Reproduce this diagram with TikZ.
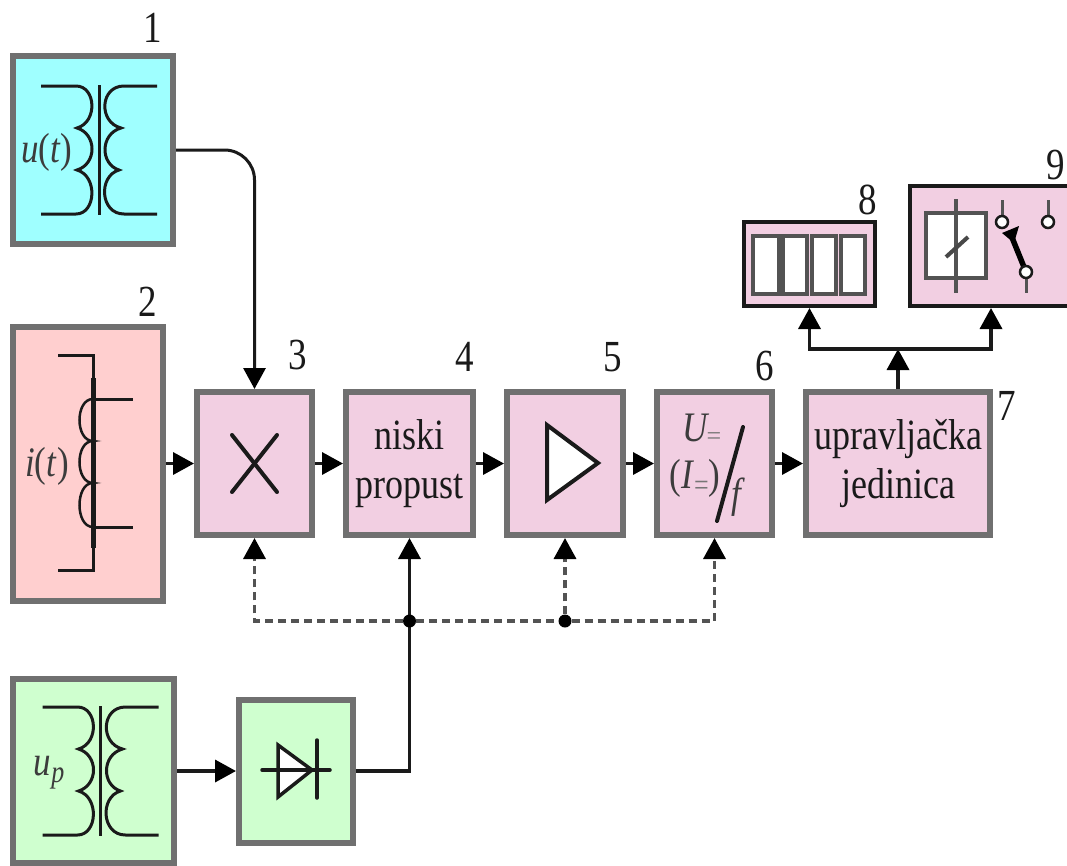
\documentclass[tikz,border=0pt]{standalone}
\usepackage{fontspec}
\usepackage{graphicx}
\setmainfont{Liberation Serif}
\usetikzlibrary{arrows.meta}
\definecolor{bcyan}{HTML}{9FFFFF}
\definecolor{bred}{HTML}{FFCFCF}
\definecolor{bpink}{HTML}{F2CFE2}
\definecolor{bgreen}{HTML}{CFFFCF}
\definecolor{bgray}{HTML}{707070}
\definecolor{ink}{HTML}{1A1A1A}
\newcommand{\vs}[1]{\scalebox{1}[1.2]{#1}}
\tikzset{
  x=1pt,y=-1pt,
  blockbox/.style={draw=bgray,line width=6pt,inner sep=0pt,align=center,text=ink,font=\fontsize{36}{49}\selectfont},
  darkbox/.style={draw=ink,line width=4pt,fill=bpink,inner sep=0pt},
  num/.style={inner sep=0pt,text=ink,font=\fontsize{37}{40}\selectfont},
  lab/.style={inner sep=0pt,text=ink!85,font=\fontsize{35}{40}\selectfont},
  wire/.style={draw=ink,line width=3pt,line cap=round},
  thin wire/.style={draw=ink,line width=2.5pt},
  conn/.style={draw=ink,line width=3.5pt,-{Triangle[length=21pt,width=22pt,color=black]}},
  ctrl/.style={draw=ink!75,line width=3.5pt,dash pattern=on 8pt off 5pt,-{Triangle[length=21pt,width=22pt,color=black]}},
  ctrlplain/.style={draw=ink!75,line width=3.5pt,dash pattern=on 8pt off 5pt},
  dotnode/.style={circle,fill=black,inner sep=0pt,minimum size=13pt},
  term/.style={circle,draw=ink,fill=white,line width=2.5pt,inner sep=0pt,minimum size=12pt},
}
\newcommand{\xfmr}[2]{%
  \begin{scope}[shift={(#1,#2)}]
    \draw[thin wire,line width=3pt] (41,86) -- (76,86) .. controls (96,86) and (98,122) .. (77,128)
      .. controls (97,134) and (97,164) .. (77,170)
      .. controls (98,176) and (96,214) .. (76,214) -- (41,214);
    \draw[thin wire,line width=3pt] (157,86) -- (124,86) .. controls (100,86) and (98,122) .. (121,128)
      .. controls (100,134) and (100,164) .. (119,170)
      .. controls (98,176) and (100,214) .. (124,214) -- (157,214);
    \draw[thin wire,line width=3pt] (99,85) -- (99,215);
  \end{scope}}
\begin{document}
\begin{tikzpicture}
\clip (0,0) rectangle (1067,865);
\useasboundingbox (0,0) rectangle (1067,865);
\fill[white] (0,0) rectangle (1067,865);

% blocks
\node[blockbox,fill=bcyan,minimum width=160pt,minimum height=188pt] (b1) at (93,150) {};
\node[blockbox,fill=bred,minimum width=150pt,minimum height=274pt] (b2) at (88,463.5) {};
\node[blockbox,fill=bpink,minimum width=115pt,minimum height=143pt] (b3) at (254.5,463.5) {};
\node[blockbox,fill=bpink,minimum width=127pt,minimum height=143pt] (b4) at (409.5,463.5) {\vs{niski}\\\vs{propust}};
\node[blockbox,fill=bpink,minimum width=116pt,minimum height=143pt] (b5) at (565,463.5) {};
\node[blockbox,fill=bpink,minimum width=115pt,minimum height=143pt] (b6) at (714.5,463.5) {};
\node[blockbox,fill=bpink,minimum width=184pt,minimum height=143pt] (b7) at (898,463.5) {\vs{upravljačka}\\\vs{jedinica}};
\node[darkbox,minimum width=131pt,minimum height=84pt] (b8) at (809.5,264) {};
\node[darkbox,minimum width=162pt,minimum height=120pt] (b9) at (991,246) {};
\node[blockbox,fill=bgreen,minimum width=161pt,minimum height=184pt] (b10) at (93.5,771) {};
\node[blockbox,fill=bgreen,minimum width=114pt,minimum height=143pt] (b11) at (296,771) {};

% numbers
\node[num] (n1) at (153,28) {\vs{1}};
\node[num] (n2) at (148,302) {\vs{2}};
\node[num] (n3) at (298,355) {\vs{3}};
\node[num] (n4) at (465,357) {\vs{4}};
\node[num] (n5) at (613,357) {\vs{5}};
\node[num] (n6) at (765,366) {\vs{6}};
\node[num] (n7) at (1007,406) {\vs{7}};
\node[num] (n8) at (868,200) {\vs{8}};
\node[num] (n9) at (1056,165) {\vs{9}};

% transformers
\xfmr{0}{0}
\xfmr{1.5}{621}
\node[lab] (lu) at (47,152) {\vs{\textit{u}(\textit{t})}};
\node[lab] (li) at (47,466) {\vs{\textit{i}(\textit{t})}};
\node[lab] (lp) at (49,773) {\vs{\textit{u}\raisebox{-6pt}{\fontsize{26}{28}\selectfont\textit{p}}}};

% current transformer
\draw[thin wire,line width=3pt] (58,355) -- (93,355) -- (93,570) -- (58,570);
\draw[thin wire,line width=5pt] (93,378) -- (93,548);
\draw[thin wire,line width=3pt] (93,399) -- (133,399);
\draw[thin wire,line width=3pt] (93,527) -- (133,527);
\draw[thin wire,line width=2.5pt] (93,399) .. controls (75,399) and (75,441) .. (93,441)
  .. controls (75,441) and (75,483) .. (93,483)
  .. controls (75,483) and (75,527) .. (93,527);

% multiplier
\draw[wire,line width=4pt] (232,435) -- (277,492);
\draw[wire,line width=4pt] (277,435) -- (232,492);

% amplifier
\draw[draw=ink,fill=white,line width=4pt] (547,425) -- (598,463) -- (547,500) -- cycle;

% converter text
\node[lab] (lU) at (696,428) {\vs{\textit{U}}};
\node[inner sep=0pt,text=ink!60,font=\fontsize{26}{26}\selectfont] (lUe) at (714,439) {=};
\node[lab] (lI) at (695,478) {\vs{(\textit{I}\raisebox{-6pt}{\textcolor{ink!60}{\fontsize{26}{26}\selectfont =}})}};
\node[lab] (lf) at (738,497) {\vs{\textit{f}}};
\draw[wire,line width=4pt] (743,427) -- (717,521);

% display
\foreach \xa/\xb in {753/779,783/807,812/836,841/865}
  \draw[draw=ink!75,fill=white,line width=3.5pt] (\xa,236) rectangle (\xb,294);

% relay
\draw[draw=ink!75,fill=white,line width=3.5pt] (926,213) rectangle (986,278);
\draw[draw=ink!75,line width=3.5pt] (956,199) -- (956,293);
\draw[draw=ink!80,line width=4pt] (946,257) -- (968,237);
\draw[draw=ink!75,line width=3pt] (1002,200) -- (1002,222);
\draw[draw=ink!75,line width=3pt] (1048,200) -- (1048,222);
\draw[draw=ink!75,line width=3pt] (1026,272) -- (1026,293);
\draw[draw=black,line width=5.5pt] (1026,272) -- (1011,235);
\fill[black] (1019,226) -- (1002,233) -- (1014,243) -- cycle;
\node[term] (t1) at (1002,222) {};
\node[term] (t2) at (1048,222) {};
\node[term] (t3) at (1026,272) {};

% diode
\draw[wire,line width=3.5pt,fill=white] (278,745) -- (312,770) -- (278,797) -- cycle;
\draw[wire,line width=3.5pt] (262,770) -- (330,770);
\draw[wire,line width=3.5pt] (317,740) -- (317,798);

% connectors
\draw[conn,rounded corners=30pt,line width=3pt] (b1.east) -| (b3.north);
\draw[conn] (b2.east |- b3.west) -- (b3.west);
\draw[conn] (b3.east) -- (b4.west);
\draw[conn] (b4.east) -- (b5.west);
\draw[conn] (b5.east) -- (b6.west);
\draw[conn] (b6.east) -- (b7.west);
\coordinate (j) at (898,349);
\draw[conn] (b7.north) -- (j);
\draw[conn] (j) -| (b8.south);
\draw[conn] (j) -| (b9.south);
\draw[conn] (b10.east) -- (b11.west);
\draw[conn] (b11.east) -| (b4.south);

\coordinate (cl) at (0,621);
\node[dotnode] (d1) at (b4.south |- cl) {};
\node[dotnode] (d2) at (b5.south |- cl) {};
\draw[ctrl] (d1) -| (b3.south);
\draw[ctrlplain] (d1) -- (d2);
\draw[ctrl] (d2) -- (b5.south);
\draw[ctrl] (d2) -| (b6.south);
\end{tikzpicture}
\end{document}
